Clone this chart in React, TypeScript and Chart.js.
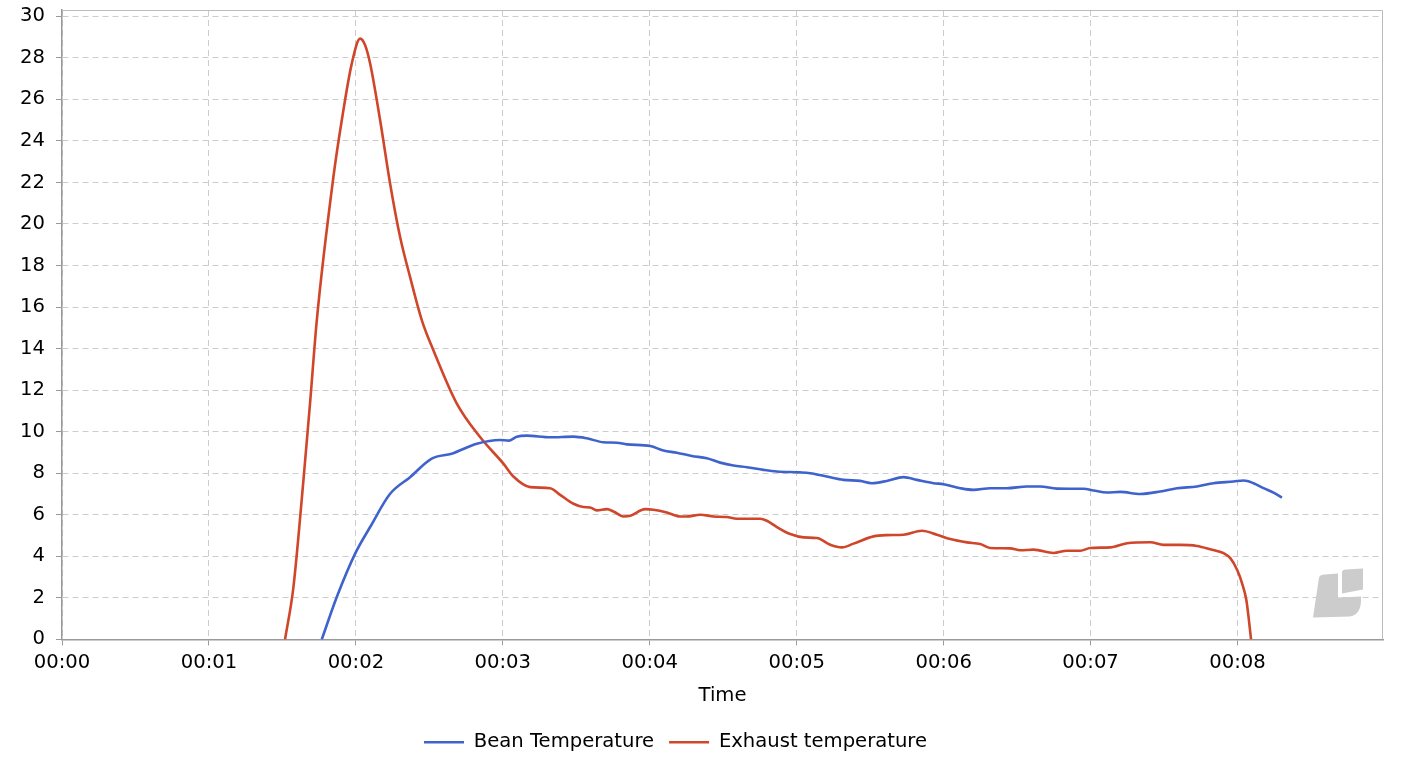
import { Chart, registerables } from "chart.js";
import { useEffect, useRef } from "react";

Chart.register(...registerables);

// time in minutes, temperatures
const beanTimes = [
  1.768, 1.87, 1.995, 2.097, 2.233, 2.369, 2.516, 2.652, 2.823, 2.98, 3.04, 3.095, 3.163, 3.322,
  3.481, 3.572, 3.685, 3.776, 3.844, 4.003, 4.093, 4.184, 4.286, 4.389, 4.479, 4.57, 4.661,
  4.774, 4.865, 5.024, 5.092, 5.205, 5.319, 5.432, 5.511, 5.613, 5.727, 5.818, 5.931, 5.999,
  6.113, 6.203, 6.317, 6.43, 6.566, 6.657, 6.771, 6.952, 7.02, 7.111, 7.202, 7.338, 7.474,
  7.588, 7.724, 7.837, 7.973, 8.041, 8.109, 8.177, 8.245, 8.302,
];
const beanTemps = [
  0, 2.04, 4.13, 5.41, 7.01, 7.81, 8.7, 8.94, 9.42, 9.6, 9.57, 9.76, 9.81, 9.73,
  9.76, 9.68, 9.49, 9.47, 9.39, 9.31, 9.09, 8.99, 8.83, 8.72, 8.51, 8.37, 8.29,
  8.16, 8.08, 8.04, 8.0, 7.84, 7.68, 7.63, 7.52, 7.63, 7.81, 7.68, 7.52, 7.47,
  7.28, 7.2, 7.28, 7.28, 7.36, 7.36, 7.26, 7.25, 7.17, 7.07, 7.1, 7.0, 7.12,
  7.28, 7.36, 7.52, 7.6, 7.65, 7.52, 7.28, 7.07, 6.83,
];

const exhaustTimes = [
  1.518, 1.575, 1.643, 1.688, 1.734, 1.847, 1.904, 1.972, 2.029, 2.063, 2.097, 2.165, 2.233,
  2.301, 2.369, 2.449, 2.528, 2.687, 2.845, 3.004, 3.072, 3.186, 3.322, 3.39, 3.481, 3.549,
  3.594, 3.64, 3.708, 3.753, 3.821, 3.867, 3.969, 4.025, 4.116, 4.207, 4.252, 4.343, 4.434,
  4.524, 4.593, 4.751, 4.797, 4.865, 4.956, 5.047, 5.137, 5.228, 5.308, 5.387, 5.523, 5.613,
  5.727, 5.852, 5.954, 6.045, 6.159, 6.249, 6.317, 6.453, 6.521, 6.612, 6.748, 6.839, 6.93,
  6.998, 7.134, 7.248, 7.406, 7.497, 7.611, 7.724, 7.815, 7.906, 7.951, 7.997, 8.031, 8.06,
  8.075, 8.092,
];
const exhaustTemps = [
  0, 2.52, 7.66, 11.36, 15.36, 22.26, 24.99, 27.72, 28.92, 28.6, 27.72, 24.99, 21.94,
  19.37, 17.44, 15.36, 13.91, 11.35, 9.74, 8.46, 7.84, 7.33, 7.28, 6.96, 6.53, 6.37,
  6.35, 6.21, 6.27, 6.16, 5.92, 5.95, 6.27, 6.24, 6.11, 5.92, 5.92, 6.0, 5.92,
  5.89, 5.81, 5.81, 5.71, 5.41, 5.07, 4.91, 4.88, 4.56, 4.43, 4.61, 4.96, 5.02,
  5.04, 5.23, 5.04, 4.83, 4.67, 4.59, 4.4, 4.38, 4.29, 4.32, 4.16, 4.27, 4.27,
  4.4, 4.43, 4.63, 4.68, 4.55, 4.55, 4.5, 4.34, 4.15, 3.91, 3.35, 2.7, 1.9,
  1.08, 0,
];

const seriesNames = ["Bean Temperature", "Exhaust temperature"];
const seriesColors = ["#3f63cc", "#d0462a"];

const FONT = "DejaVu Sans";
const SIZE = 19.6;

const frame = {
  id: "frame",
  afterLayout(chart: any) {
    // legend sits a little left of the canvas centre in the original
    if (chart.legend) {
      chart.legend.left -= 16;
      chart.legend.right -= 16;
    }
  },
  beforeDatasetsDraw(chart: any) {
    const { ctx, chartArea: a } = chart;
    // faint logo in the lower right corner
    ctx.save();
    ctx.fillStyle = "#cccccc";
    ctx.beginPath();
    ctx.moveTo(a.right - 64, a.bottom - 62);
    ctx.quadraticCurveTo(a.right - 63, a.bottom - 65, a.right - 58, a.bottom - 65);
    ctx.lineTo(a.right - 45, a.bottom - 66);
    ctx.lineTo(a.right - 45, a.bottom - 42);
    ctx.lineTo(a.right - 22, a.bottom - 43);
    ctx.quadraticCurveTo(a.right - 21, a.bottom - 25, a.right - 33, a.bottom - 23);
    ctx.lineTo(a.right - 70, a.bottom - 22);
    ctx.closePath();
    ctx.fill();
    ctx.beginPath();
    ctx.moveTo(a.right - 41, a.bottom - 67);
    ctx.quadraticCurveTo(a.right - 41, a.bottom - 70, a.right - 37, a.bottom - 70);
    ctx.lineTo(a.right - 20, a.bottom - 71);
    ctx.lineTo(a.right - 20, a.bottom - 50);
    ctx.lineTo(a.right - 41, a.bottom - 46);
    ctx.closePath();
    ctx.fill();
    ctx.restore();
  },
  afterDraw(chart: any) {
    const { ctx, chartArea: a } = chart;
    ctx.save();
    ctx.strokeStyle = "#bbbbbb";
    ctx.lineWidth = 1;
    ctx.beginPath();
    ctx.moveTo(a.left, a.top + 0.5);
    ctx.lineTo(a.right - 0.5, a.top + 0.5);
    ctx.lineTo(a.right - 0.5, a.bottom);
    ctx.stroke();
    ctx.restore();
  },
};

const RoastChart = () => {
  const canvasRef = useRef<HTMLCanvasElement | null>(null);
  const chartRef = useRef<Chart | null>(null);

  useEffect(() => {
    if (!canvasRef.current) return;
    if (chartRef.current) chartRef.current.destroy();

    const series = [
      beanTimes.map((t, i) => ({ x: t, y: beanTemps[i] })),
      exhaustTimes.map((t, i) => ({ x: t, y: exhaustTemps[i] })),
    ];

    chartRef.current = new Chart(canvasRef.current, {
      type: "line",
      data: {
        datasets: series.map((pts, i) => ({
          label: seriesNames[i],
          data: pts,
          borderColor: seriesColors[i],
          backgroundColor: seriesColors[i],
          borderWidth: 2.6,
          pointRadius: 0,
          cubicInterpolationMode: "monotone" as const,
          fill: false,
        })),
      },
      options: {
        animation: false,
        responsive: true,
        maintainAspectRatio: false,
        layout: { padding: { top: 0, right: 19, left: 0, bottom: 10 } },
        plugins: {
          tooltip: { enabled: false },
          legend: {
            position: "bottom",
            labels: {
              usePointStyle: true,
              pointStyle: "line",
              pointStyleWidth: 40,
              padding: 15,
              color: "#000",
              font: { family: FONT, size: SIZE },
            },
          },
        },
        scales: {
          x: {
            type: "linear",
            min: 0,
            max: 8.99,
            afterFit: (s: any) => {
              s.height = 78;
            },
            ticks: {
              stepSize: 1,
              includeBounds: false,
              padding: 6,
              color: "#000",
              font: { family: FONT, size: SIZE },
              callback: (v: any) => "00:" + String(v).padStart(2, "0"),
            },
            title: {
              display: true,
              text: "Time",
              color: "#000",
              font: { family: FONT, size: SIZE },
              padding: { top: 4, bottom: 10 },
            },
            grid: {
              color: "#cccccc",
              tickColor: "#999999",
              tickLength: 6,
              tickBorderDash: [],
              lineWidth: 1,
            },
            border: { color: "#999999", width: 1.5, dash: [6, 4] },
          },
          y: {
            min: 0,
            max: 30.3,
            afterFit: (s: any) => {
              s.width = 62;
              s.paddingTop = 10;
            },
            ticks: {
              stepSize: 2,
              includeBounds: false,
              padding: 11,
              color: "#000",
              font: { family: FONT, size: SIZE },
            },
            grid: {
              color: (c: any) => (c.tick && c.tick.value === 0 ? "rgba(0,0,0,0)" : "#cccccc"),
              tickColor: "#999999",
              tickLength: 6,
              tickBorderDash: [],
              lineWidth: 1,
            },
            border: { color: "#999999", width: 1.5, dash: [6, 4] },
          },
        },
      },
      plugins: [frame],
    });

    return () => {
      if (chartRef.current) {
        chartRef.current.destroy();
        chartRef.current = null;
      }
    };
  }, []);

  return (
    <div style={{ position: "absolute", left: 0, top: 0, width: 1402, height: 772, background: "#fff" }}>
      <canvas ref={canvasRef} />
    </div>
  );
};

export default function App() {
  return <RoastChart />;
}
